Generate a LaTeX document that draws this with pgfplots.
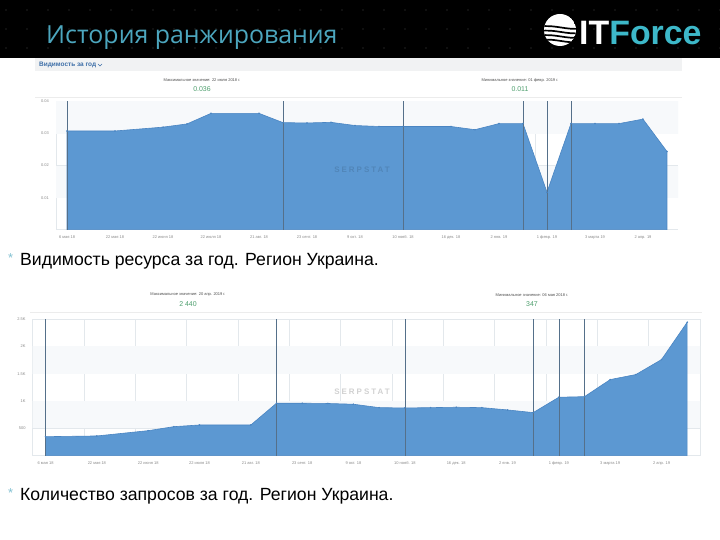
\documentclass[border=0pt]{standalone}
\usepackage{fontspec}
\setmainfont{Liberation Sans}
\newfontfamily\titlefont{Open Sans}
\usepackage{pgfplots}
\pgfplotsset{compat=1.18}

\definecolor{areablue}{HTML}{5C98D2}
\definecolor{lineblue}{HTML}{4A85C2}
\definecolor{annot}{HTML}{55708A}
\definecolor{gridgray}{HTML}{E3E8EC}
\definecolor{bandgray}{HTML}{F7F9FB}
\definecolor{labelgray}{HTML}{8A8A8A}
\definecolor{valgreen}{HTML}{4E9F6E}
\definecolor{titleteal}{HTML}{4CA6BE}
\definecolor{logoteal}{HTML}{3DB8C9}
\definecolor{headblue}{HTML}{3E6FA8}
\definecolor{stripgray}{HTML}{F1F2F3}

\pgfplotsset{
  slide chart/.style={
    scale only axis, anchor=south west,
    axis x line*=bottom, axis y line*=left,
    axis line style={draw=gridgray, line width=0.6pt},
    major tick length=0pt, minor tick length=0pt,
    scaled y ticks=false,
    tick label style={font=\fontsize{4}{5}\selectfont, text=labelgray, inner sep=0pt},
    xticklabel style={anchor=base, yshift=-8.7bp},
    yticklabel style={anchor=east, xshift=-7bp},
    xtick={0,...,12},
    xticklabels={6 мая 18, 22 мая 18, 22 июня 18, 22 июля 18, 21 авг. 18, 23 сент. 18, 9 окт. 18, 10 нояб. 18, 16 дек. 18, 2 янв. 19, 1 февр. 19, 3 марта 19, 2 апр. 19},
    minor xtick={-0.25,0.75,...,12.75},
    xminorgrids, ymajorgrids,
    grid style={draw=gridgray, line width=0.5pt},
    minor grid style={draw=gridgray, line width=0.5pt},
  },
}

\begin{document}
\begin{tikzpicture}[x=1bp,y=1bp]
\path[use as bounding box, fill=white] (0,0) rectangle (720,540);

% header band
\fill[black] (0,482) rectangle (720,540);
\foreach \i in {0,...,34}{
  \foreach \j in {492,511,530}{
    \fill[gray!45] (6+21*\i,\j) circle (0.45);
  }
}
\node[anchor=base west, inner sep=0, text=titleteal,
  font=\titlefont\fontsize{25}{28}\selectfont] at (46,496) {История ранжирования};
\begin{scope}
  \clip (560,510) circle (16);
  \fill[white] (560,510) circle (16);
  \foreach \k in {-10,-5.5,-1,3.5}{
    \draw[black, line width=1.7] (540,510+\k) .. controls (556,512+\k) and (566,506+\k) .. (582,508+\k);
  }
\end{scope}
\node[anchor=base west, inner sep=0, font=\bfseries\fontsize{34}{36}\selectfont]
  at (579,495) {\textcolor{white}{IT}\textcolor{logoteal}{Force}};

% chart 1 header
\fill[stripgray] (35,469) rectangle (682,482);
\node[anchor=base west, inner sep=0, text=headblue, font=\bfseries\fontsize{6.5}{7}\selectfont]
  at (39,473) {Видимость за год};
\draw[headblue, line width=0.6] (98,476) -- (100,474) -- (102,476);
\node[text=black!70, font=\fontsize{4}{5}\selectfont] at (202,460) {Максимальное значение: 22 июля 2018 г.};
\node[text=valgreen, font=\fontsize{7}{8}\selectfont] at (202,451) {0.036};
\node[text=black!70, font=\fontsize{4}{5}\selectfont] at (520,460) {Минимальное значение: 01 февр. 2019 г.};
\node[text=valgreen, font=\fontsize{7}{8}\selectfont] at (520,451) {0.011};
\draw[gray!15, line width=0.5] (35,443) -- (682,443);

\begin{axis}[slide chart,
  at={(56bp,310.3bp)}, width=622bp, height=128.2bp,
  xmin=-0.23, xmax=12.73, ymin=0, ymax=0.04,
  ytick={0.01,0.02,0.03,0.04}, yticklabels={0.01,0.02,0.03,0.04}]
\fill[bandgray] (axis cs:-1,0.01) rectangle (axis cs:14,0.02);
\fill[bandgray] (axis cs:-1,0.03) rectangle (axis cs:14,0.04);
\addplot[draw=lineblue, fill=areablue, line width=0.6pt, mark=*, mark size=0.45pt,
  mark options={fill=lineblue, draw=lineblue}] coordinates {
  (0,0.0308) (1,0.0308) (2,0.0320) (2.5,0.0330) (3,0.0363) (4,0.0363)
  (4.5,0.0334) (5,0.0333) (5.5,0.0335) (6,0.0325) (6.5,0.0322) (7,0.0322)
  (8,0.0322) (8.5,0.0312) (9,0.0331) (9.5,0.0331) (10,0.0117) (10.5,0.0331)
  (11,0.0331) (11.5,0.0331) (12,0.0345) (12.5,0.0244)} \closedcycle;
\addplot[ycomb, draw=annot, line width=0.6pt, mark=none] coordinates {
  (0,0.04) (4.5,0.04) (7,0.04) (9.5,0.04) (10,0.04) (10.5,0.04)};
\end{axis}
\node[text=black, opacity=0.12, font=\bfseries\fontsize{8}{9}\selectfont] at (362,370)
  {\addfontfeatures{LetterSpace=25}SERPSTAT};

% caption 1
\node[anchor=base west, inner sep=0, text=titleteal!70, font=\fontsize{13}{14}\selectfont] at (8,277) {*};
\node[anchor=base west, inner sep=0, font=\fontsize{17.7}{19}\selectfont] at (20,274)
  {Видимость ресурса за год. Регион Украина.};

% chart 2 header
\node[text=black!70, font=\fontsize{4}{5}\selectfont] at (188,245) {Максимальное значение: 20 апр. 2019 г.};
\node[text=valgreen, font=\fontsize{7}{8}\selectfont] at (188,236) {2 440};
\node[text=black!70, font=\fontsize{4}{5}\selectfont] at (532,245) {Минимальное значение: 06 мая 2018 г.};
\node[text=valgreen, font=\fontsize{7}{8}\selectfont] at (532,236) {347};
\draw[gray!15, line width=0.5] (30,228) -- (702,228);

\begin{axis}[slide chart,
  at={(32.7bp,84.3bp)}, width=667.3bp, height=136.7bp,
  xmin=-0.25, xmax=12.75, ymin=0, ymax=2500,
  ytick={500,1000,1500,2000,2500}, yticklabels={500,1K,1.5K,2K,2.5K}]
\fill[bandgray] (axis cs:-1,500) rectangle (axis cs:14,1000);
\fill[bandgray] (axis cs:-1,1500) rectangle (axis cs:14,2000);
\addplot[draw=lineblue, fill=areablue, line width=0.6pt, mark=*, mark size=0.45pt,
  mark options={fill=lineblue, draw=lineblue}] coordinates {
  (0,348) (1,361) (2,458) (2.5,531) (3,562) (4,562) (4.5,960) (5,960)
  (5.5,955) (6,941) (6.5,879) (7,873) (7.5,879) (8,886) (8.5,879) (9,837)
  (9.5,788) (10,1069) (10.5,1080) (11,1392) (11.5,1484) (12,1758) (12.5,2440)} \closedcycle;
\addplot[ycomb, draw=annot, line width=0.6pt, mark=none] coordinates {
  (0,2500) (4.5,2500) (7,2500) (9.5,2500) (10,2500) (10.5,2500)};
\end{axis}
\node[text=black, opacity=0.18, font=\bfseries\fontsize{8}{9}\selectfont] at (362,148)
  {\addfontfeatures{LetterSpace=25}SERPSTAT};

% caption 2
\node[anchor=base west, inner sep=0, text=titleteal!70, font=\fontsize{13}{14}\selectfont] at (8,42) {*};
\node[anchor=base west, inner sep=0, font=\fontsize{17.7}{19}\selectfont] at (20,39)
  {Количество запросов за год. Регион Украина.};
\end{tikzpicture}
\end{document}
